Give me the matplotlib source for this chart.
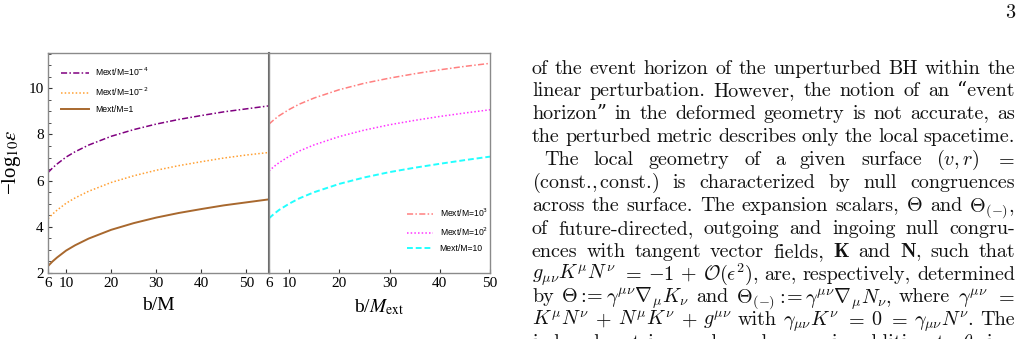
import re
import numpy as np
import matplotlib
matplotlib.use('Agg')
import matplotlib.pyplot as plt
from matplotlib.ticker import MultipleLocator

# left panel: b/M
x_left = [6, 7, 8, 10, 12, 15, 20, 25, 30, 35, 40, 45, 50, 55]
y_m4 = [6.35, 6.55, 6.72, 7.02, 7.25, 7.54, 7.92, 8.21, 8.45, 8.65, 8.82, 8.98, 9.11, 9.24]
y_m2 = [4.35, 4.55, 4.72, 5.02, 5.25, 5.54, 5.92, 6.21, 6.45, 6.65, 6.82, 6.98, 7.11, 7.22]
y_1 = [2.30, 2.50, 2.67, 2.97, 3.20, 3.49, 3.87, 4.16, 4.40, 4.60, 4.77, 4.93, 5.06, 5.19]

# right panel: b/M_ext
x_right = [6, 7, 8, 10, 12, 15, 20, 25, 30, 35, 40, 45, 50]
y_e3 = [8.45, 8.64, 8.81, 9.08, 9.31, 9.58, 9.94, 10.22, 10.44, 10.63, 10.80, 10.95, 11.08]
y_e2 = [6.42, 6.61, 6.78, 7.05, 7.28, 7.55, 7.91, 8.19, 8.42, 8.61, 8.78, 8.93, 9.07]
y_e1 = [4.37, 4.56, 4.73, 5.00, 5.23, 5.50, 5.86, 6.14, 6.37, 6.56, 6.73, 6.89, 7.04]

left_labels = [r'Mext/M=10$^{-4}$', r'Mext/M=10$^{-2}$', 'Mext/M=1']
right_labels = [r'Mext/M=10$^{3}$', r'Mext/M=10$^{2}$', 'Mext/M=10']

W, H = 1028, 339
fig = plt.figure(figsize=(W / 100, H / 100), dpi=100)

serif = 'Liberation Serif'
spine_c = '#8a8a8a'

ax1 = fig.add_axes([48 / W, 1 - 273 / H, 221 / W, 220.5 / H])
ax2 = fig.add_axes([269 / W, 1 - 273 / H, 221 / W, 220.5 / H], sharey=ax1)

ax1.plot(x_left, y_m4, color='#800080', lw=1.1, ls=(0, (4, 1.5, 1, 1.5)), label=left_labels[0])
ax1.plot(x_left, y_m2, color='#ffa033', lw=1.1, ls=(0, (1, 1.4)), label=left_labels[1])
ax1.plot(x_left, y_1, color='#a8682e', lw=1.4, label=left_labels[2])

ax2.plot(x_right, y_e3, color='#ff8080', lw=1.1, ls=(0, (4, 1.5, 1, 1.5)), label=right_labels[0])
ax2.plot(x_right, y_e2, color='#ff33ff', lw=1.1, ls=(0, (1, 1.4)), label=right_labels[1])
ax2.plot(x_right, y_e1, color='#22ffff', lw=1.4, ls=(0, (3, 1.5)), label=right_labels[2])

ax1.set_xlim(6, 55)
ax2.set_xlim(6, 50)
ax1.set_ylim(2, 11.55)

ax1.set_xticks([6, 10, 20, 30, 40, 50])
ax2.set_xticks([6, 10, 20, 30, 40, 50])
ax1.set_yticks([2, 4, 6, 8, 10])
ax1.yaxis.set_minor_locator(MultipleLocator(0.5))

for ax in (ax1, ax2):
    for s in ax.spines.values():
        s.set_color(spine_c)
        s.set_linewidth(1.0)
    ax.tick_params(direction='in', length=3, width=0.8, color='#333333',
                   labelsize=11, pad=3)
    ax.tick_params(which='minor', direction='in', length=2, width=0.6, color='#333333')
    for lab in ax.get_xticklabels() + ax.get_yticklabels():
        lab.set_fontfamily(serif)

ax2.tick_params(axis='y', which='both', left=False, labelleft=False)
ax1.spines['right'].set_color('#666666')
ax1.spines['right'].set_linewidth(1.5)

ax1.set_xlabel('b/M', fontfamily=serif, fontsize=14, labelpad=5)
ax2.set_xlabel(r'b/$M_{\rm ext}$', fontfamily=serif, fontsize=14, labelpad=5,
               math_fontfamily='stix')
ax1.set_ylabel('\u2212log$_{10}\\epsilon$', fontfamily=serif, fontsize=15, labelpad=4,
               math_fontfamily='stix')

leg_font = {'family': 'Liberation Sans', 'size': 6.2}
ax1.legend(loc='upper left', bbox_to_anchor=(57.5 / W, 1 - 62 / H), bbox_transform=fig.transFigure,
           borderaxespad=0, frameon=False, prop=leg_font,
           handlelength=3.2, handletextpad=0.8, labelspacing=0.85)
ax2.legend(loc='upper left', bbox_to_anchor=(403.5 / W, 1 - 203 / H), bbox_transform=fig.transFigure,
           borderaxespad=0, frameon=False, prop=leg_font,
           handlelength=3.0, handletextpad=0.8, labelspacing=0.75)

# --- running text of the page, justified line by line ---
# tokens are split on spaces outside $...$; each line is stretched to the column width
page_lines = [
    (532, 'of the event horizon of the unperturbed BH within the'),
    (532, 'linear perturbation.  However, the notion of an \u201cevent'),
    (532, 'horizon\u201d in the deformed geometry is not accurate, as'),
    (532, 'the perturbed metric describes only the local spacetime.'),
    (544, r'The local geometry of a given surface $(v,r)$ $=$'),
    (532, r'(const.,$\,$const.) is characterized by null congruences'),
    (532, r'across the surface. The expansion scalars, $\Theta$ and $\Theta_{(-)}$,'),
    (532, 'of future-directed, outgoing and ingoing null congru-'),
    (532, r'ences with tangent vector fields, $\mathbf{K}$ and $\mathbf{N}$, such that'),
    (532, r'$g_{\mu\nu}K^{\mu}N^{\nu}$ $=$ $-1$ $+$ $\mathcal{O}(\epsilon^2)$, are, respectively, determined'),
    (532, r'by $\Theta:\!\!=\gamma^{\mu\nu}\nabla_{\mu}K_{\nu}$ and $\Theta_{(-)}:\!\!=\gamma^{\mu\nu}\nabla_{\mu}N_{\nu}$, where $\gamma^{\mu\nu}$ $=$'),
    (532, r'$K^{\mu}N^{\nu}$ $+$ $N^{\mu}K^{\nu}$ $+$ $g^{\mu\nu}$ with $\gamma_{\mu\nu}K^{\nu}$ $=$ $0$ $=$ $\gamma_{\mu\nu}N^{\nu}$. The'),
    (532, r'induced metric $\gamma_{ab}$ depends on $v$ in addition to $\theta$, im-'),
]
right_edge = 1015
base0, step = 73.5, 22.9
txt_kw = dict(fontfamily=['cmr10', 'DejaVu Serif'], fontsize=14.5, math_fontfamily='cm',
              va='baseline', ha='left', color='#111111')

renderer = fig.canvas.get_renderer()
for i, (x0, line) in enumerate(page_lines):
    words = re.findall(r'(?:\$[^$]*\$|[^\s$])+', line)
    arts = [fig.text(0, 0, w, **txt_kw) for w in words]
    widths = [a.get_window_extent(renderer).width for a in arts]
    gap = (right_edge - x0 - sum(widths)) / (len(words) - 1)
    x = x0
    yb = base0 + i * step
    for a, w in zip(arts, widths):
        a.set_position((x / W, 1 - yb / H))
        x += w + gap

fig.text(1015 / W, 1 - 18 / H, '3', fontfamily='cmr10', fontsize=14.5, ha='right',
         va='baseline', color='#111111')

fig.savefig('out.png', dpi=100)
